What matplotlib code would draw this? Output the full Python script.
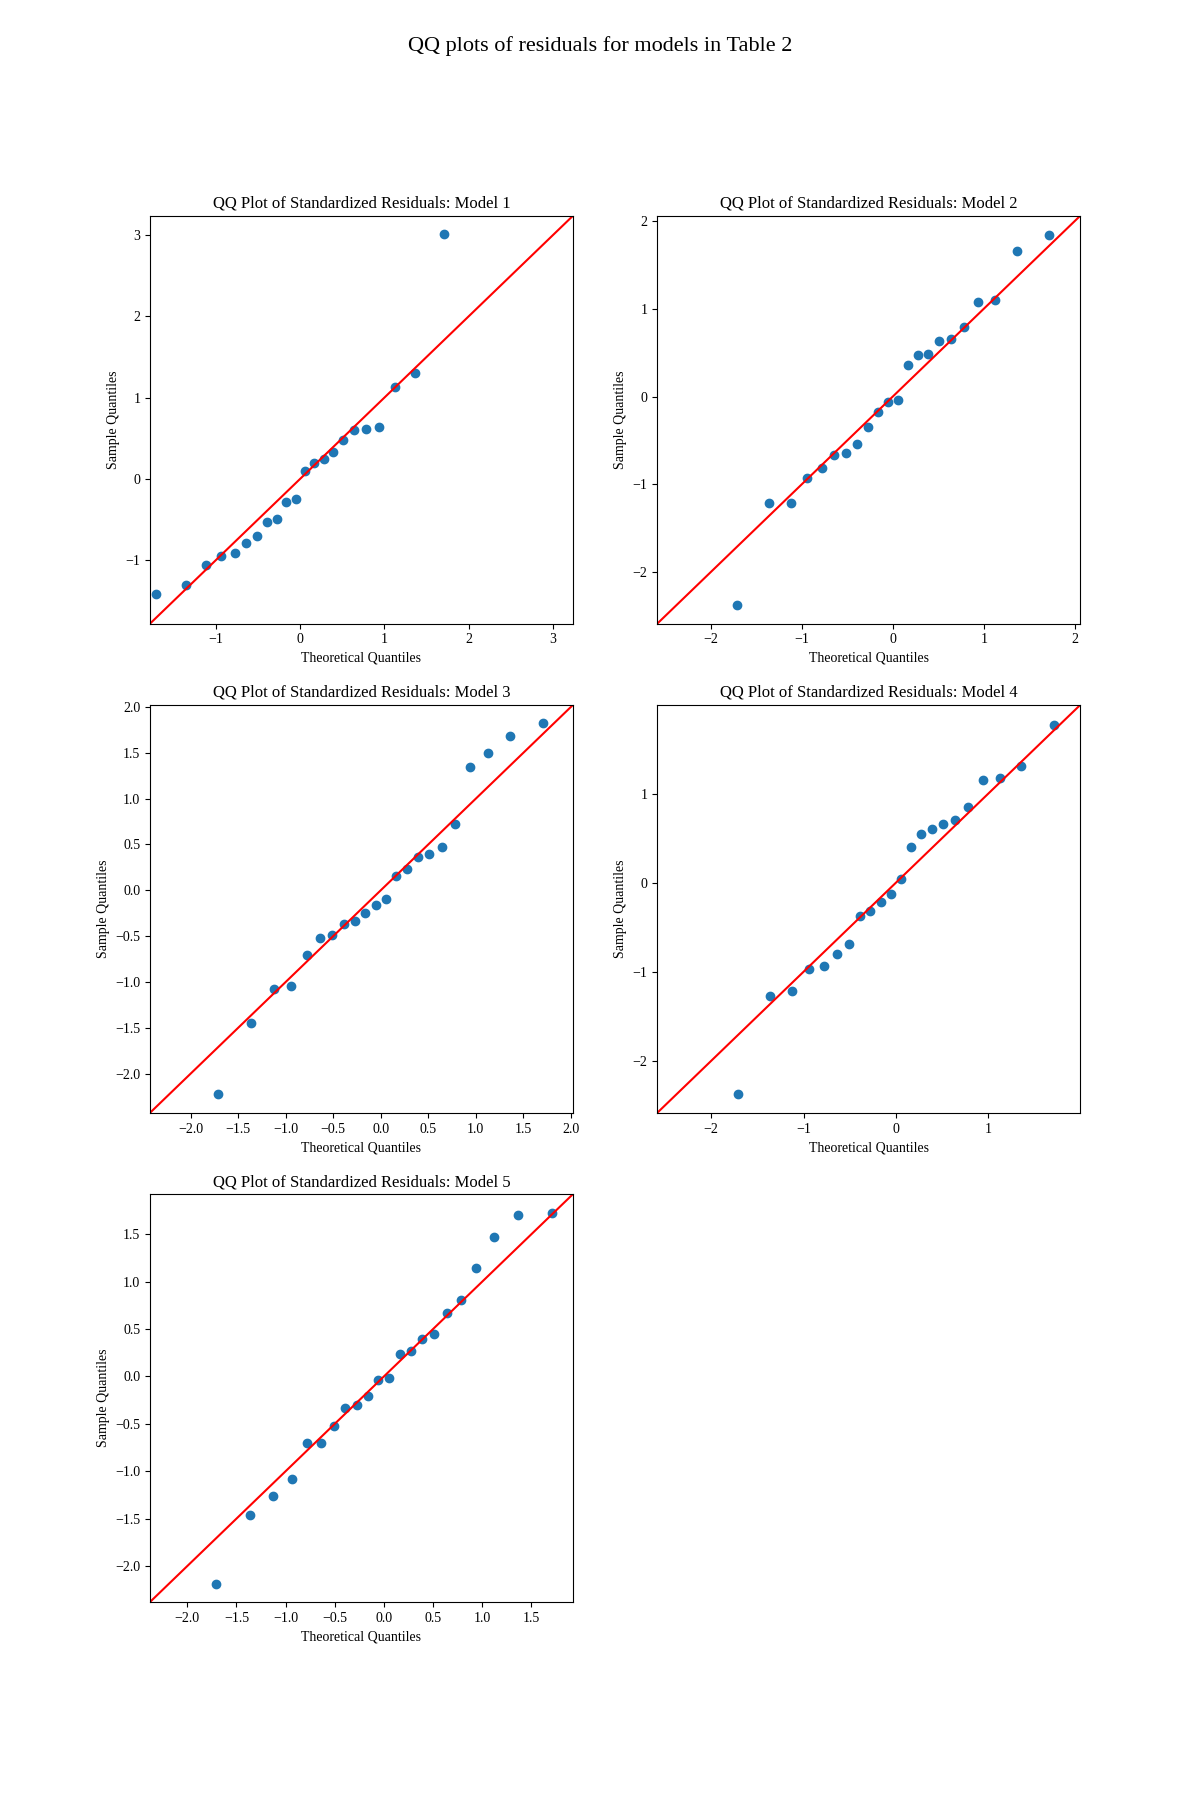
import matplotlib
matplotlib.use("Agg")
import matplotlib.pyplot as plt

plt.rcParams['font.family'] = ['Liberation Serif', 'DejaVu Serif']

suptitle = "QQ plots of residuals for models in Table 2"
model_names = ["Model 1", "Model 2", "Model 3", "Model 4", "Model 5"]

# Theoretical normal quantiles (n = 22)
theoretical = [-1.711, -1.360, -1.124, -0.939, -0.781, -0.641, -0.512, -0.391,
               -0.276, -0.164, -0.055, 0.055, 0.164, 0.276, 0.391, 0.512,
               0.641, 0.781, 0.939, 1.124, 1.360, 1.711]

model1 = [-1.421, -1.310, -1.064, -0.957, -0.916, -0.789, -0.706, -0.534,
          -0.501, -0.287, -0.251, 0.099, 0.193, 0.246, 0.329, 0.476,
          0.604, 0.616, 0.637, 1.133, 1.302, 3.014]
model2 = [-2.372, -1.218, -1.218, -0.934, -0.820, -0.664, -0.641, -0.539,
          -0.345, -0.182, -0.057, -0.034, 0.361, 0.474, 0.486, 0.630,
          0.657, 0.797, 1.078, 1.101, 1.658, 1.841]
model3 = [-2.224, -1.449, -1.077, -1.041, -0.702, -0.520, -0.488, -0.368,
          -0.331, -0.244, -0.160, -0.095, 0.157, 0.229, 0.364, 0.397,
          0.473, 0.724, 1.347, 1.500, 1.685, 1.820]
model4 = [-2.378, -1.275, -1.211, -0.972, -0.931, -0.804, -0.684, -0.370,
          -0.321, -0.213, -0.131, 0.045, 0.396, 0.550, 0.609, 0.662,
          0.710, 0.856, 1.155, 1.178, 1.312, 1.776]
model5 = [-2.187, -1.458, -1.257, -1.077, -0.704, -0.697, -0.525, -0.335,
          -0.296, -0.211, -0.039, -0.018, 0.239, 0.268, 0.391, 0.447,
          0.669, 0.803, 1.141, 1.468, 1.701, 1.725]

samples = [model1, model2, model3, model4, model5]

# Axis limits (same for x and y in each panel)
limits = [(-1.785, 3.236), (-2.588, 2.057), (-2.427, 2.019),
          (-2.584, 1.994), (-2.380, 1.922)]

fig, axes = plt.subplots(3, 2, figsize=(12, 18), dpi=100)
flat = axes.ravel()
for i, (name, ys, lim) in enumerate(zip(model_names, samples, limits)):
    ax = flat[i]
    ax.plot(theoretical, ys, marker='o', linestyle='none', color='#1f77b4',
            markersize=6)
    ax.axline((0, 0), slope=1, color='r', linewidth=1.5)
    ax.set_xlim(lim)
    ax.set_ylim(lim)
    ax.set_title(f"QQ Plot of Standardized Residuals: {name}", fontsize=12)
    ax.set_xlabel("Theoretical Quantiles", fontsize=10)
    ax.set_ylabel("Sample Quantiles", fontsize=10)
    ax.tick_params(labelsize=10)
flat[5].remove()

fig.suptitle(suptitle, fontsize=16)
fig.savefig("out.png", dpi=100)
